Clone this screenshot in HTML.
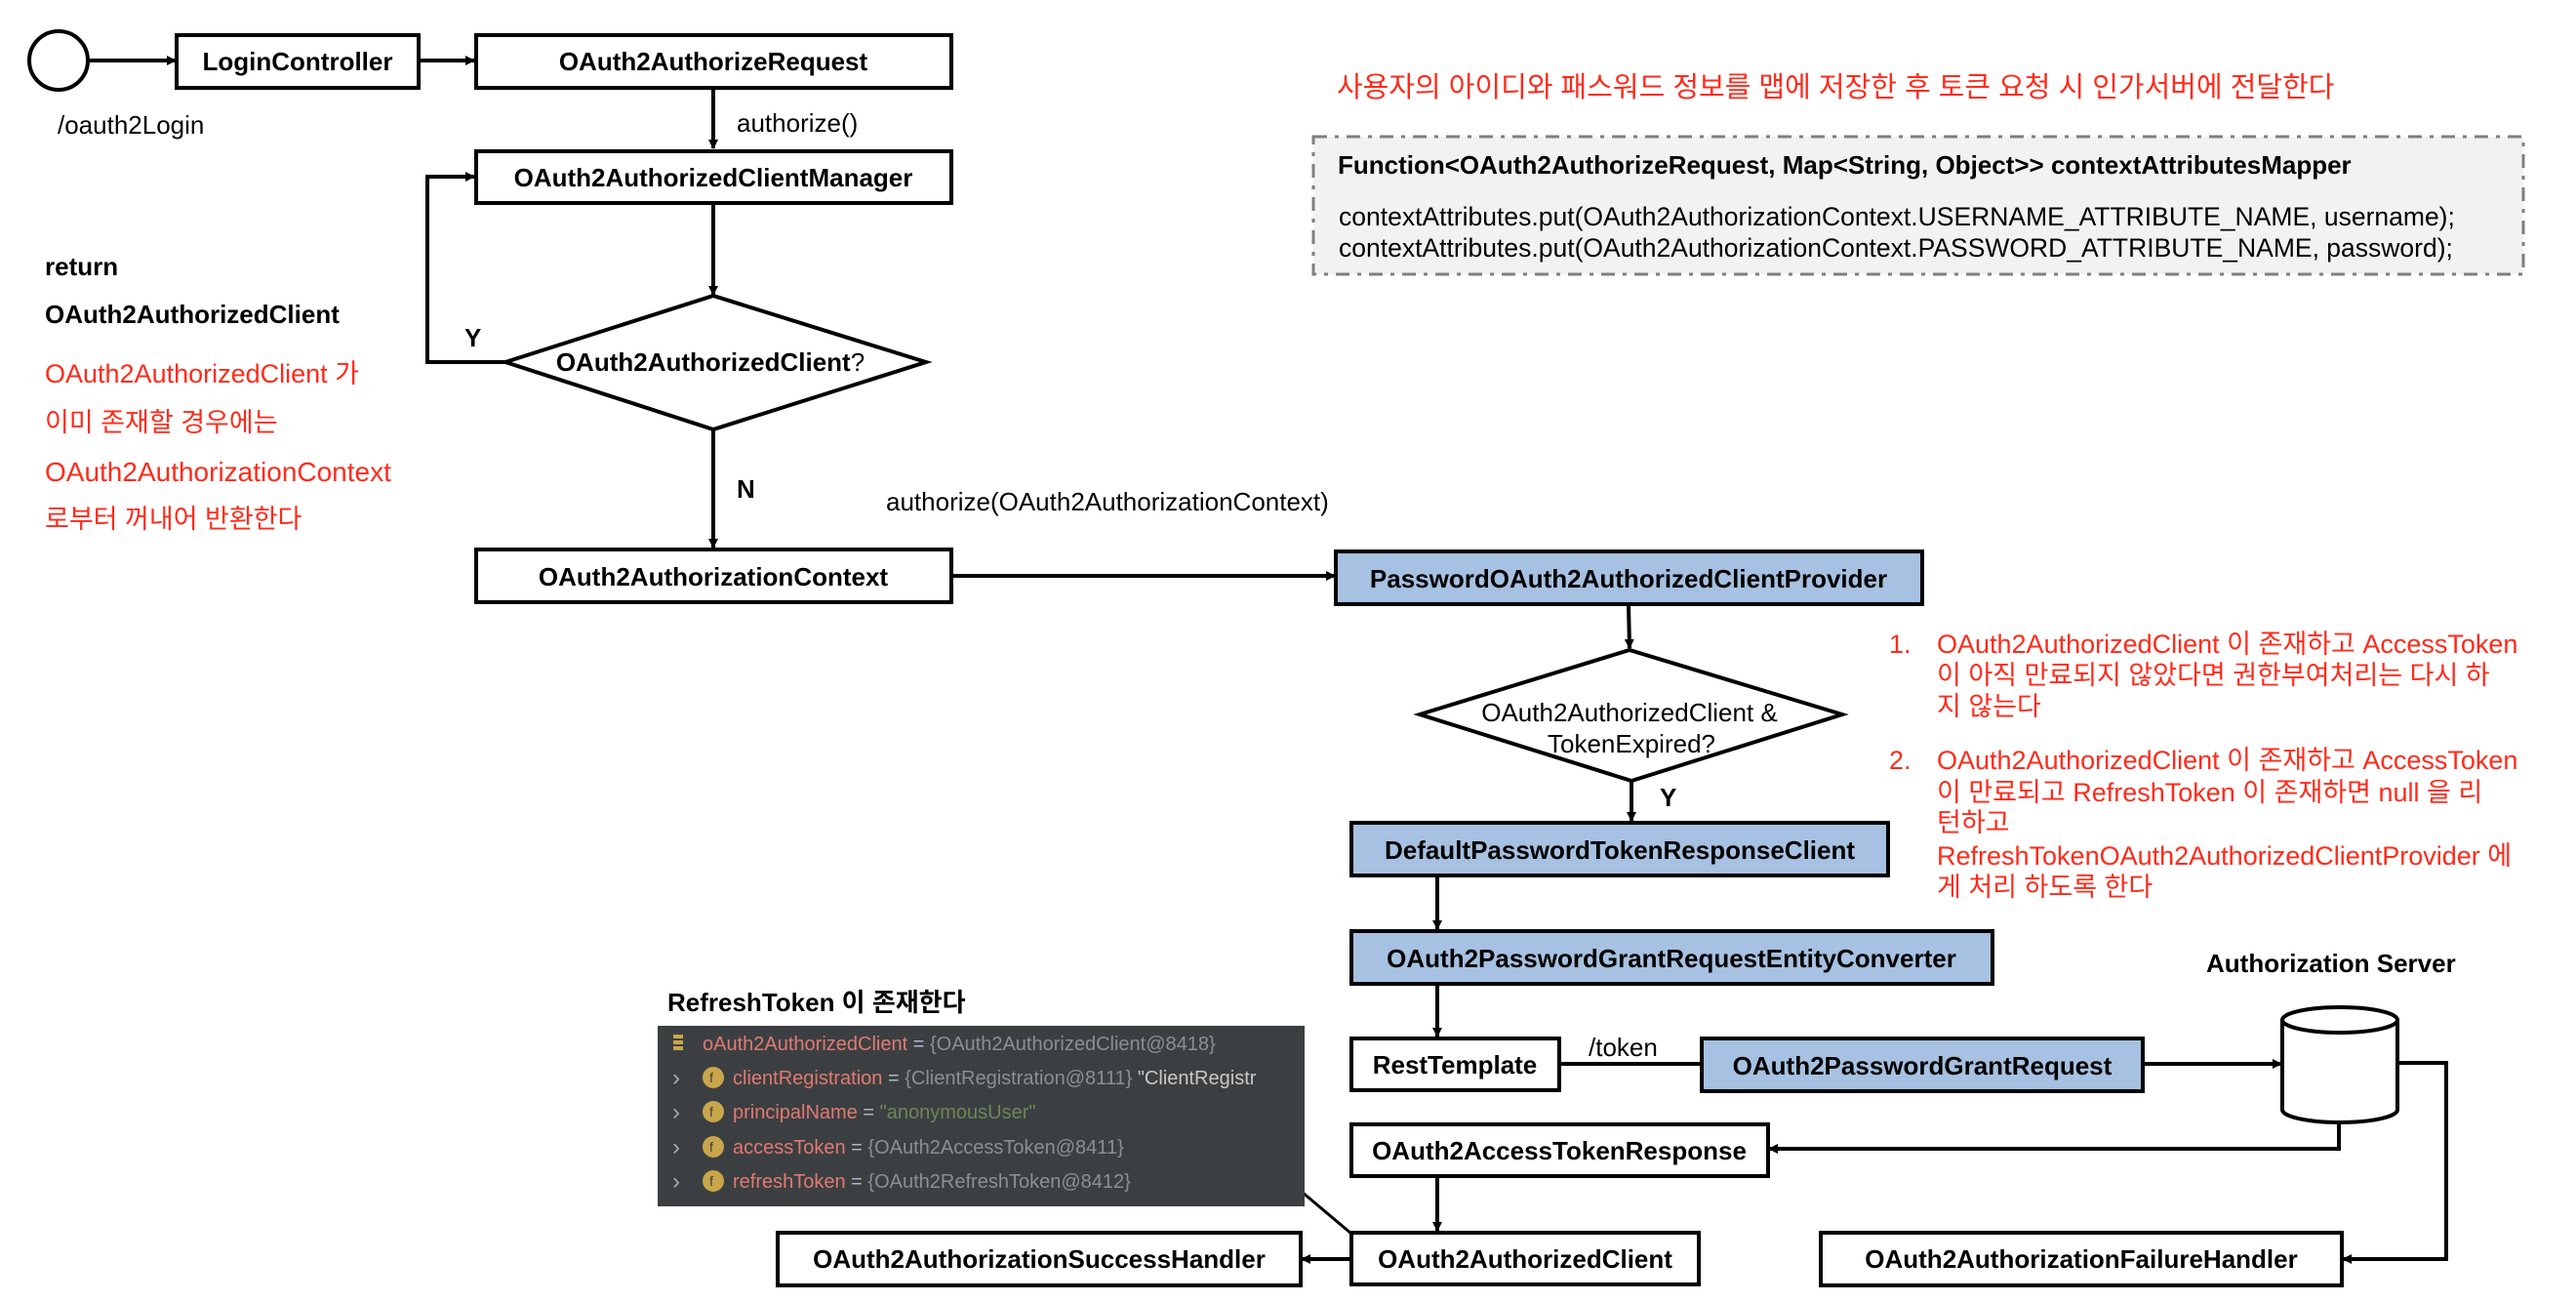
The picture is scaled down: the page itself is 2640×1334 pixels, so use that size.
<!DOCTYPE html>
<html><head><meta charset="utf-8"><style>
html,body{margin:0;padding:0;background:#fff;}
svg{display:block;font-family:"Liberation Sans","Noto Sans CJK KR",sans-serif;}
.b{font-weight:bold;font-size:26px;fill:#000;}
.n{font-size:26px;fill:#000;}
.r{font-size:27px;fill:#ff2a1a;}
.m{font-size:20px;}
</style></head><body>
<svg width="2640" height="1334" viewBox="0 0 2640 1334" xmlns="http://www.w3.org/2000/svg">
<defs>
<marker id="a" markerWidth="10" markerHeight="10" refX="9" refY="5" orient="auto" markerUnits="userSpaceOnUse" viewBox="0 0 10 10">
<path d="M0,0 L10,5 L0,10 z" fill="#000"/></marker>
</defs>
<g stroke="#000" stroke-width="4" fill="none">
<circle cx="60" cy="62" r="30"/>
<line x1="91" y1="62" x2="180" y2="62" marker-end="url(#a)"/>
<line x1="430" y1="62" x2="486" y2="62" marker-end="url(#a)"/>
<line x1="731" y1="90" x2="731" y2="152" marker-end="url(#a)"/>
<line x1="731" y1="208" x2="731" y2="302" marker-end="url(#a)"/>
<polyline points="518,371 438,371 438,181 486,181" marker-end="url(#a)"/>
<line x1="731" y1="440" x2="731" y2="561" marker-end="url(#a)"/>
<line x1="975" y1="590" x2="1368" y2="590" marker-end="url(#a)"/>
<line x1="1669" y1="619" x2="1670" y2="664" marker-end="url(#a)"/>
<line x1="1672" y1="800" x2="1672" y2="841" marker-end="url(#a)"/>
<line x1="1473" y1="897" x2="1473" y2="952" marker-end="url(#a)"/>
<line x1="1473" y1="1008" x2="1473" y2="1062" marker-end="url(#a)"/>
<line x1="1598" y1="1090" x2="1744" y2="1090"/>
<line x1="2196" y1="1090" x2="2338" y2="1090" marker-end="url(#a)"/>
<polyline points="2457,1089 2507,1089 2507,1290 2401,1290" marker-end="url(#a)"/>
<polyline points="2397,1150 2397,1177 1813,1177" marker-end="url(#a)"/>
<line x1="1473" y1="1205" x2="1473" y2="1261" marker-end="url(#a)"/>
<line x1="1385" y1="1290" x2="1334" y2="1290" marker-end="url(#a)"/>
<line x1="1328" y1="1216" x2="1385" y2="1264" stroke-width="3"/>
</g>
<g stroke="#000" stroke-width="4">
<rect x="181" y="36" width="248" height="54" fill="#fff"/>
<rect x="488" y="36" width="487" height="54" fill="#fff"/>
<rect x="488" y="155" width="487" height="53" fill="#fff"/>
<polygon points="518,371 731,303 949,371 731,440" fill="#fff"/>
<rect x="488" y="563" width="487" height="54" fill="#fff"/>
<rect x="1369" y="565" width="601" height="54" fill="#a6c1e1"/>
<polygon points="1455,732 1670,666 1888,732 1672,800" fill="#fff"/>
<rect x="1385" y="843" width="550" height="54" fill="#a6c1e1"/>
<rect x="1385" y="954" width="657" height="54" fill="#a6c1e1"/>
<rect x="1385" y="1064" width="213" height="53" fill="#fff"/>
<rect x="1744" y="1064" width="452" height="54" fill="#a6c1e1"/>
<rect x="1385" y="1152" width="427" height="53" fill="#fff"/>
<rect x="1385" y="1263" width="356" height="53" fill="#fff"/>
<rect x="1866" y="1263" width="534" height="54" fill="#fff"/>
<rect x="797" y="1263" width="536" height="54" fill="#fff"/>
</g>
<g stroke="#000" stroke-width="4" fill="#fff">
<path d="M2339,1045 L2339,1137 A59,13 0 0 0 2457,1137 L2457,1045"/>
<ellipse cx="2398" cy="1045" rx="59" ry="13"/>
</g>
<rect x="1346" y="140" width="1240" height="141" fill="#f2f2f2" stroke="#7f7f7f" stroke-width="3" stroke-dasharray="14,8,4,8"/>
<rect x="674" y="1051" width="663" height="185" fill="#3c3f41"/>
<g class="m">
<rect x="690" y="1060" width="10" height="4" fill="#c9a64b"/><rect x="690" y="1066" width="10" height="4" fill="#c9a64b"/><rect x="690" y="1072" width="10" height="4" fill="#c9a64b"/>
<text x="720" y="1076" fill="#e07a73">oAuth2AuthorizedClient <tspan fill="#a9b7c6">=</tspan> <tspan fill="#8a8f94">{OAuth2AuthorizedClient@8418}</tspan></text>
<g fill="#c9a64b"><circle cx="731" cy="1104" r="11"/><circle cx="731" cy="1139" r="11"/><circle cx="731" cy="1175" r="11"/><circle cx="731" cy="1210" r="11"/></g>
<g fill="#3c3f41" font-size="14"><text x="727" y="1109">f</text><text x="727" y="1144">f</text><text x="727" y="1180">f</text><text x="727" y="1215">f</text></g>
<g fill="#aaa" font-size="24"><text x="689" y="1112">›</text><text x="689" y="1147">›</text><text x="689" y="1183">›</text><text x="689" y="1218">›</text></g>
<text x="751" y="1111" fill="#e07a73">clientRegistration <tspan fill="#a9b7c6">=</tspan> <tspan fill="#8a8f94">{ClientRegistration@8111}</tspan> <tspan fill="#c8c8c8">"ClientRegistr</tspan></text>
<text x="751" y="1146" fill="#e07a73">principalName <tspan fill="#a9b7c6">=</tspan> <tspan fill="#6a8759">"anonymousUser"</tspan></text>
<text x="751" y="1182" fill="#e07a73">accessToken <tspan fill="#a9b7c6">=</tspan> <tspan fill="#8a8f94">{OAuth2AccessToken@8411}</tspan></text>
<text x="751" y="1217" fill="#e07a73">refreshToken <tspan fill="#a9b7c6">=</tspan> <tspan fill="#8a8f94">{OAuth2RefreshToken@8412}</tspan></text>
</g>
<g class="b" text-anchor="middle">
<text x="305" y="72">LoginController</text>
<text x="731" y="72">OAuth2AuthorizeRequest</text>
<text x="731" y="191">OAuth2AuthorizedClientManager</text>
<text x="728" y="380">OAuth2AuthorizedClient<tspan font-weight="normal">?</tspan></text>
<text x="731" y="600">OAuth2AuthorizationContext</text>
<text x="1669" y="602">PasswordOAuth2AuthorizedClientProvider</text>
<text x="1660" y="880">DefaultPasswordTokenResponseClient</text>
<text x="1713" y="991">OAuth2PasswordGrantRequestEntityConverter</text>
<text x="1491" y="1100">RestTemplate</text>
<text x="1970" y="1101">OAuth2PasswordGrantRequest</text>
<text x="1598" y="1188">OAuth2AccessTokenResponse</text>
<text x="1563" y="1299">OAuth2AuthorizedClient</text>
<text x="2133" y="1299">OAuth2AuthorizationFailureHandler</text>
<text x="1065" y="1299">OAuth2AuthorizationSuccessHandler</text>
</g>
<g class="n" text-anchor="middle">
<text x="1670" y="739">OAuth2AuthorizedClient &amp;</text>
<text x="1672" y="771">TokenExpired?</text>
</g>
<g class="b">
<text x="476" y="355">Y</text>
<text x="755" y="510">N</text>
<text x="1701" y="826">Y</text>
<text x="46" y="282">return</text>
<text x="46" y="331">OAuth2AuthorizedClient</text>
<text x="2261" y="996">Authorization Server</text>
<text x="684" y="1036">RefreshToken 이 존재한다</text>
<text x="1371" y="178" font-size="26">Function&lt;OAuth2AuthorizeRequest, Map&lt;String, Object&gt;&gt; contextAttributesMapper</text>
</g>
<g class="n">
<text x="59" y="137">/oauth2Login</text>
<text x="755" y="135">authorize()</text>
<text x="908" y="523">authorize(OAuth2AuthorizationContext)</text>
<text x="1628" y="1082">/token</text>
<text x="1372" y="231" font-size="26.5">contextAttributes.put(OAuth2AuthorizationContext.USERNAME_ATTRIBUTE_NAME, username);</text>
<text x="1372" y="263" font-size="26.5">contextAttributes.put(OAuth2AuthorizationContext.PASSWORD_ATTRIBUTE_NAME, password);</text>
</g>
<g class="r">
<text x="46" y="392">OAuth2AuthorizedClient 가</text>
<text x="46" y="442">이미 존재할 경우에는</text>
<text x="46" y="493" font-size="28">OAuth2AuthorizationContext</text>
<text x="46" y="541">로부터 꺼내어 반환한다</text>
<text x="1370" y="99" font-size="29">사용자의 아이디와 패스워드 정보를 맵에 저장한 후 토큰 요청 시 인가서버에 전달한다</text>
<text x="1936" y="669">1.</text>
<text x="1985" y="669">OAuth2AuthorizedClient 이 존재하고 AccessToken</text>
<text x="1985" y="701">이 아직 만료되지 않았다면 권한부여처리는 다시 하</text>
<text x="1985" y="733">지 않는다</text>
<text x="1936" y="788">2.</text>
<text x="1985" y="788">OAuth2AuthorizedClient 이 존재하고 AccessToken</text>
<text x="1985" y="821">이 만료되고 RefreshToken 이 존재하면 null 을 리</text>
<text x="1985" y="852">턴하고</text>
<text x="1985" y="886">RefreshTokenOAuth2AuthorizedClientProvider 에</text>
<text x="1985" y="918">게 처리 하도록 한다</text>
</g>
</svg>
</body></html>
